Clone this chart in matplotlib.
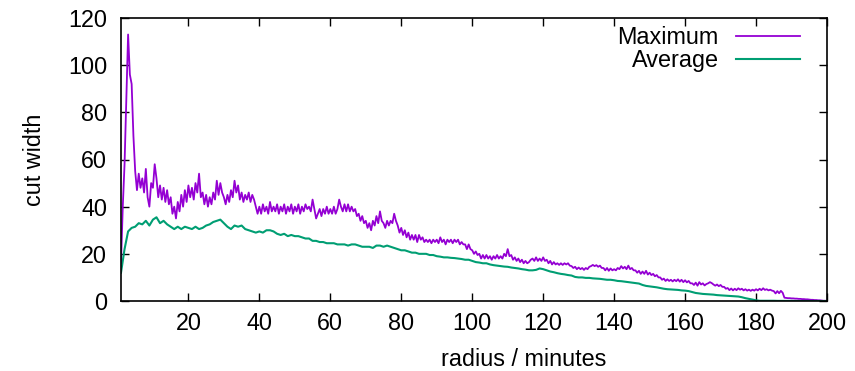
import numpy as np
import matplotlib
matplotlib.use("Agg")
import matplotlib.pyplot as plt

max_x = np.arange(1.0, 200.01, 0.5)
max_y = [
    16, 40, 58, 86, 113, 96, 92, 70, 55, 47, 54, 48, 52, 46, 56, 44, 40, 50, 48, 58,
    52, 44, 49, 43, 48, 42, 47, 41, 44, 37, 40, 35, 42, 38, 45, 40, 47, 42, 49, 44,
    48, 43, 50, 46, 54, 44, 46, 41, 45, 40, 44, 41, 46, 43, 51, 45, 50, 46, 44, 41,
    45, 42, 47, 44, 51, 46, 49, 43, 46, 42, 45, 43, 46, 42, 45, 43, 40, 37, 40, 37,
    41, 38, 40, 37, 42, 38, 40, 38, 41, 37, 40, 38, 41, 37, 40, 38, 41, 37, 40, 38,
    41, 37, 40, 38, 41, 39, 40, 38, 43, 39, 35, 37, 39, 36, 39, 37, 40, 37, 39, 37,
    40, 37, 39, 43, 40, 38, 41, 38, 41, 38, 40, 38, 39, 36, 37, 34, 36, 33, 34, 31,
    33, 30, 34, 32, 36, 33, 38, 34, 33, 31, 34, 32, 34, 33, 37, 34, 32, 29, 31, 28,
    30, 27, 29, 26, 28, 26, 28, 25, 28, 26, 27, 25, 26, 25, 26, 24.5, 26, 25, 26, 24.5,
    27, 25, 26, 24, 26, 25, 26, 24.5, 26, 25, 26, 24, 25, 24, 24, 22, 24, 22, 21.5, 20,
    21, 19.5, 20, 18, 19.5, 18, 19.5, 18, 19, 17.5, 19, 18, 19.5, 18, 19, 18, 20, 19, 22, 19,
    19.5, 17.5, 18.5, 17, 18, 16.5, 17.5, 16, 17, 16, 16.5, 17.5, 18, 17, 18.5, 17, 18, 17, 18.5, 17,
    17.5, 16, 17, 15.5, 16.5, 15.5, 16, 15.3, 16, 15.3, 16, 15.5, 16, 15, 14.8, 14, 14.5, 13.5, 14.2, 13.5,
    14, 13.2, 14, 13.5, 14.5, 14.8, 15.3, 14.8, 15.2, 14.5, 15, 14, 14, 13, 14, 12.8, 13.8, 13, 13.5, 13,
    14, 13.5, 14.8, 13.8, 14.5, 13.5, 15, 13.5, 14, 13, 13, 12, 12.8, 11.5, 12.5, 11.5, 12.8, 11.2, 12, 11,
    11.5, 10.5, 11, 10, 10, 9, 9.5, 8.5, 9.2, 8.5, 9, 8.3, 9, 8.4, 9.2, 8.2, 9, 8, 8.8, 7.9,
    8.5, 7.5, 7.5, 6.8, 7.8, 6.5, 8, 7, 7.5, 6.6, 7.2, 7.5, 8, 7.6, 7, 6.5, 7, 6.3, 6.8, 6,
    6, 5.2, 5.5, 4.6, 5.3, 4.5, 5.2, 4.6, 5.4, 4.8, 5.2, 4.5, 5, 4.4, 4.8, 4.3, 4.8, 4.4, 5, 4.5,
    5.2, 4.6, 5.4, 4.7, 5, 4.5, 4.8, 4.4, 4.2, 3.2, 4.2, 3.3, 4.3, 3.5, 1.4, 1.3, 1.2, 1.2, 1.1, 1.1,
    1.0, 1.0, 0.9, 0.9, 0.8, 0.8, 0.7, 0.7, 0.6, 0.5, 0.5, 0.4, 0.4, 0.3, 0.3, 0.2, 0.1, 0.1, 0,
]

# Average cut width, every minute from 1 to 200
avg_x = np.arange(1, 201)
avg_y = [
    12, 22, 29.5, 31, 31.5, 33, 32.5, 34, 32, 34.5,
    35.5, 33, 34, 32.5, 31.5, 30.5, 31.5, 30.5, 31.5, 31,
    30.5, 31.5, 30.5, 31, 32, 32.5, 33.5, 34, 34.5, 33,
    31.5, 30.5, 32, 31.5, 32, 30.5, 30, 29.5, 29, 29.5,
    29, 30, 30, 29.5, 28.5, 28, 28.5, 27.5, 28, 27.5,
    27.5, 27, 26.5, 26.5, 25.5, 25.5, 25, 25, 24.5, 24.5,
    24.5, 24, 24, 24, 23.5, 24, 24, 23.5, 23, 23,
    23, 22.5, 23.5, 23.5, 23, 23.5, 23, 22.5, 22, 21.5,
    21.5, 21, 20.5, 20.5, 20, 20, 20, 19.5, 19.5, 19,
    18.8, 18.5, 18.5, 18.3, 18.2, 18, 17.8, 17.5, 17.5, 17,
    16.5, 16.3, 16, 16, 15.5, 15.2, 15, 14.8, 14.6, 14.5,
    14.2, 14, 13.8, 13.5, 13.3, 13, 13, 13.2, 13.8, 13.5,
    13, 12.5, 12.2, 11.8, 11.5, 11.3, 11, 10.8, 10.2, 10,
    10, 9.8, 9.8, 9.6, 9.5, 9.4, 9.2, 9, 9, 8.8,
    8.5, 8.4, 8.2, 8, 7.8, 7.6, 7.4, 6.8, 6.4, 6.2,
    6, 5.8, 5.5, 5.2, 5, 4.9, 4.8, 4.7, 4.5, 4.4,
    4.2, 3.8, 3.4, 3.2, 3, 2.9, 2.8, 2.7, 2.5, 2.4,
    2.3, 2.2, 2.1, 2, 1.9, 1.6, 1.2, 0.9, 0.6, 0.3,
    0.1, 0.1, 0.1, 0.1, 0.1, 0.05, 0.05, 0.05, 0.05, 0.05,
    0, 0, 0, 0, 0, 0, 0, 0, 0, 0,
]

plt.rcParams['font.family'] = ['Liberation Sans', 'DejaVu Sans']
fs = 16.8

fig = plt.figure(figsize=(8.55, 3.71), dpi=100)
ax = fig.add_axes([121 / 855, 1 - 301 / 371, (827 - 121) / 855, (301 - 18) / 371])

ax.plot(max_x, max_y, color='#9400D3', lw=1.3, label='Maximum')
ax.plot(avg_x, avg_y, color='#009E73', lw=1.5, label='Average')

ax.set_xlim(1, 200)
ax.set_ylim(0, 120)
ax.set_xticks(range(20, 201, 20))
ax.set_yticks(range(0, 121, 20))
ax.tick_params(direction='in', top=True, right=True, length=6, width=1,
               labelsize=fs)
ax.tick_params(axis='x', pad=8)
ax.tick_params(axis='y', pad=10)
for s in ax.spines.values():
    s.set_linewidth(1.2)

ax.set_xlabel('radius / minutes', fontsize=fs)
ax.set_ylabel('cut width', fontsize=fs)
ax.xaxis.set_label_coords((524 - 121) / 706, -0.165)
ax.yaxis.set_label_coords(-0.106, 0.5)

ax.legend(loc='upper right', bbox_to_anchor=(1 - 18 / 706, 1.003),
          borderaxespad=0, frameon=False, markerfirst=False,
          handlelength=2.75, handletextpad=0.73, labelspacing=0.0, fontsize=fs)

fig.savefig('out.png', dpi=100)
